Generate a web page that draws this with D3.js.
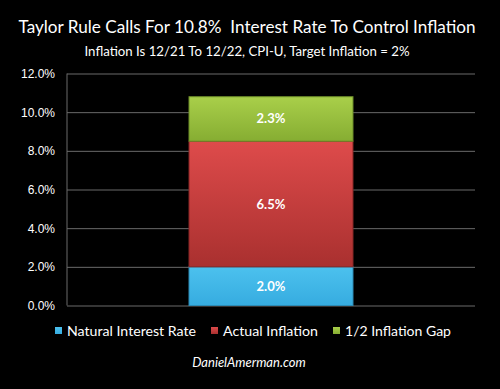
<!DOCTYPE html>
<html>
<head>
<meta charset="utf-8">
<script src="https://cdn.jsdelivr.net/npm/d3@7"></script>
<style>
  body { margin: 0; background: #000; }
  svg { display: block; font-family: Lato, "Open Sans", sans-serif; }
</style>
</head>
<body>
<svg id="chart" width="500" height="389"></svg>
<script>
// chart data
const seriesNames = ['Natural Interest Rate', 'Actual Inflation', '1/2 Inflation Gap']
const seriesValues = [2.0, 6.5, 2.3]
const seriesColors = [['#4cc1ee', '#36ace0'], ['#de4b4b', '#a9302f'], ['#a9cf4a', '#86ad32']]
const yTicks = [0, 2, 4, 6, 8, 10, 12]
const category = ['Taylor Rule']

const svg = d3.select('#chart')
const margin = {left: 67, right: 25, top: 73.5, bottom: 83.5}
const W = 500, H = 389

svg.append('rect').attr('width', W).attr('height', H).attr('fill', '#000')

const x = d3.scaleBand().domain(category).range([margin.left, W - margin.right]).paddingInner(0).paddingOuter(0.744)
const y = d3.scaleLinear().domain([0, 12]).range([H - margin.bottom, margin.top])

// titles
svg.append('text').attr('x', 247).attr('y', 33).attr('text-anchor', 'middle')
    .attr('fill', '#fff').attr('font-size', 17.5)
    .attr('textLength', 457).attr('lengthAdjust', 'spacingAndGlyphs')
    .text('Taylor Rule Calls For 10.8%\u00a0 Interest Rate To Control Inflation')
svg.append('text').attr('x', 247).attr('y', 56).attr('text-anchor', 'middle')
    .attr('fill', '#fff').attr('font-size', 14)
    .attr('textLength', 325).attr('lengthAdjust', 'spacingAndGlyphs')
    .text('Inflation Is 12/21 To 12/22, CPI-U, Target Inflation = 2%')

// grid + axis
const grid = svg.append('g').attr('transform', `translate(${margin.left},0)`)
    .call(d3.axisLeft(y).tickValues(yTicks).tickSize(-(W - margin.left - margin.right)).tickFormat(d => d.toFixed(1) + '%'))
grid.select('.domain').remove()
grid.selectAll('.tick line').attr('stroke', '#6a6a6a').attr('stroke-width', 1)
grid.selectAll('.tick text').attr('fill', '#fff').attr('font-size', 12).attr('x', -12)
svg.append('line').attr('x1', margin.left).attr('x2', margin.left)
    .attr('y1', y(12)).attr('y2', y(0)).attr('stroke', '#6a6a6a')

// gradients
const defs = svg.append('defs')
seriesColors.forEach((c, i) => {
    const g = defs.append('linearGradient').attr('id', 'g' + i).attr('x1', 0).attr('y1', 0).attr('x2', 0).attr('y2', 1)
    g.append('stop').attr('offset', '0%').attr('stop-color', c[0])
    g.append('stop').attr('offset', '100%').attr('stop-color', c[1])
})

// stacked bar
const stacked = []
let base = 0
seriesValues.forEach((v, i) => {
    stacked.push({name: seriesNames[i], v: v, y0: base, y1: base + v, i: i})
    base += v
})
const bx = x(category[0])
const bw = x.bandwidth()
const bars = svg.append('g')
bars.selectAll('rect').data(stacked).enter().append('rect')
    .attr('x', bx).attr('width', bw)
    .attr('y', d => y(d.y1)).attr('height', d => y(d.y0) - y(d.y1))
    .attr('fill', d => `url(#g${d.i})`)
    .attr('stroke', d => d3.color(seriesColors[d.i][1]).darker(0.6)).attr('stroke-width', 1)
bars.selectAll('text').data(stacked).enter().append('text')
    .attr('x', bx + bw / 2).attr('y', d => (y(d.y0) + y(d.y1)) / 2 + 4.5)
    .attr('text-anchor', 'middle').attr('fill', '#fff')
    .attr('font-size', 13).attr('font-weight', 'bold')
    .text(d => d.v.toFixed(1) + '%')

// legend
const legX = [55, 211, 333]
const legW = [129, 95, 106]
const leg = svg.append('g')
seriesNames.forEach((n, i) => {
    leg.append('rect').attr('x', legX[i]).attr('y', 327).attr('width', 7).attr('height', 7)
        .attr('fill', `url(#g${i})`)
    leg.append('text').attr('x', legX[i] + 12).attr('y', 335.5).attr('fill', '#fff')
        .attr('font-size', 14).attr('textLength', legW[i]).attr('lengthAdjust', 'spacingAndGlyphs').text(n)
})

svg.append('text').attr('x', 249).attr('y', 367).attr('text-anchor', 'middle')
    .attr('fill', '#fff').attr('font-size', 13).attr('font-style', 'italic')
    .text('DanielAmerman.com')
</script>
</body>
</html>
